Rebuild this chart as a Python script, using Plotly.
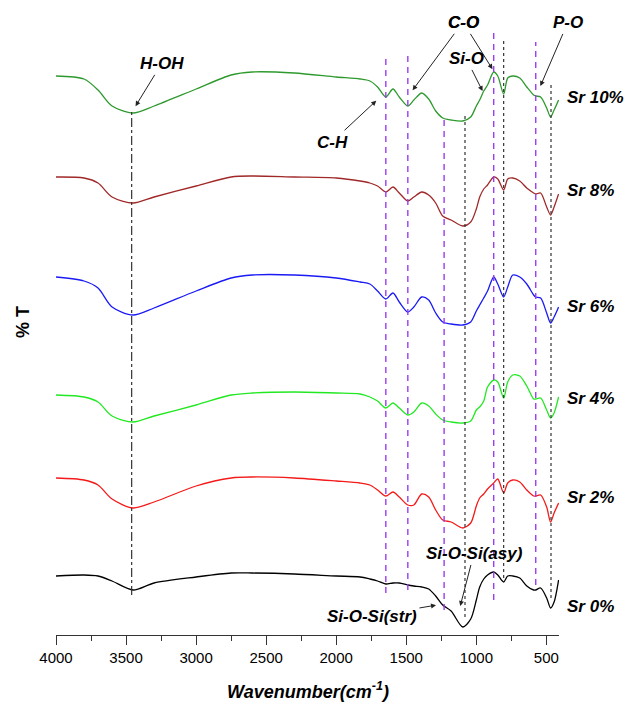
import plotly.graph_objects as go

# Wavenumber grid (cm^-1)
wavenumber = [4000, 3800, 3700, 3600, 3450, 3300, 3000, 2750, 2600, 2300, 2000, 1830,
              1760, 1705, 1646, 1595, 1550, 1489, 1446, 1390, 1340, 1290, 1240, 1180,
              1097, 1040, 1000, 976, 947, 920, 876, 847, 805, 776, 740, 690, 640, 591,
              576, 541, 498, 470, 445, 413]

# %T (arbitrary units, stacked with offsets)
sr10 = [559, 556, 545, 529, 522, 529, 546, 560, 563, 562, 558, 556, 554, 548, 538, 546,
        538, 529, 535, 542, 536, 524, 517, 515, 514, 518, 529, 535, 544, 550, 563, 559,
        541, 557, 559, 557, 548, 540, 539, 538, 527, 518, 525, 535]
sr8 = [458, 457, 452, 438, 432, 438, 449, 458, 459, 458, 457, 454, 452, 449, 443, 448,
       442, 434, 438, 443, 440, 432, 419, 415, 409, 413, 426, 438, 446, 450, 458, 456,
       445, 456, 457, 454, 447, 442, 441, 442, 428, 420, 428, 441]
sr6 = [358, 354, 347, 328, 320, 327, 344, 357, 360, 360, 357, 353, 351, 344, 336, 342,
       333, 323, 328, 338, 335, 322, 313, 311, 310, 313, 324, 330, 337, 344, 358, 351,
       338, 348, 360, 358, 351, 340, 338, 337, 322, 312, 318, 328]
sr4 = [240, 238, 233, 219, 213, 219, 230, 240, 242, 243, 242, 241, 238, 234, 227, 232,
       227, 220, 223, 232, 229, 221, 215, 213, 212, 214, 225, 228, 234, 248, 255, 253,
       237, 253, 260, 259, 249, 236, 236, 237, 225, 217, 222, 238]
sr2 = [157, 155, 150, 136, 127, 133, 149, 157, 158, 157, 154, 152, 150, 145, 139, 143,
       138, 130, 130, 141, 138, 125, 115, 113, 107, 112, 129, 137, 141, 146, 152, 156,
       142, 152, 155, 153, 145, 139, 139, 140, 128, 113, 122, 132]
sr0 = [59, 60, 59, 54, 45, 52, 58, 62, 62, 61, 59, 58, 56, 54, 51, 52, 52, 50, 49, 48,
       46, 39, 30, 24, 8, 16, 35, 48, 56, 60, 63, 60, 53, 59, 59, 57, 49, 45, 45, 47,
       37, 27, 33, 55]

series_names = ["Sr 10%", "Sr 8%", "Sr 6%", "Sr 4%", "Sr 2%", "Sr 0%"]
series_values = [sr10, sr8, sr6, sr4, sr2, sr0]
series_colors = ["#2E9A2E", "#A02828", "#1A1AF5", "#22E822", "#F41A1A", "#000000"]
label_levels = [538, 444, 329, 237, 138, 29]

# Band marker lines (cm^-1) and their vertical extents (%T units)
dashed_bands = [1646, 1489, 1230, 876, 576]
dashed_extent = [(42, 580), (45, 580), (25, 517), (35, 602), (50, 593)]
dotted_bands = [1081, 805, 467]
dotted_extent = [(18, 520), (57, 595), (37, 552)]
dashdot_band = 3460
dashdot_extent = (40, 523)

W, H = 629, 715
L, R, T, B = 56, 70, 0, 80
XR = [4000, 410]
YR = [0, 635]


def px_to_x(px):
    return XR[0] + (px - L) * (XR[1] - XR[0]) / (W - L - R)


def py_to_y(py):
    return YR[1] - (py - T) * (YR[1] - YR[0]) / (H - T - B)


def px_to_paper(px):
    return (px - L) / (W - L - R)


def py_to_paper(py):
    return (H - B - py) / (H - T - B)


def y_to_paper(y):
    return (y - YR[0]) / (YR[1] - YR[0])


fig = go.Figure()

for name, vals, col in zip(series_names, series_values, series_colors):
    fig.add_trace(go.Scatter(x=wavenumber, y=vals, mode="lines", name=name,
                             line=dict(color=col, width=1.3, shape="spline", smoothing=0.8),
                             showlegend=False))

for xb, (y0, y1) in zip(dashed_bands, dashed_extent):
    fig.add_shape(type="line", x0=xb, x1=xb, y0=y0, y1=y1, xref="x", yref="y",
                  line=dict(color="#9B3DF2", width=1.4, dash="6px,5px"))
for xb, (y0, y1) in zip(dotted_bands, dotted_extent):
    fig.add_shape(type="line", x0=xb, x1=xb, y0=y0, y1=y1, xref="x", yref="y",
                  line=dict(color="#333333", width=1.2, dash="dot"))
fig.add_shape(type="line", x0=dashdot_band, x1=dashdot_band, y0=dashdot_extent[0],
              y1=dashdot_extent[1], xref="x", yref="y",
              line=dict(color="#333333", width=1.2, dash="dashdot"))

lab_font = dict(family="Liberation Sans, Arial", size=17, color="black")

# series labels
for name, lv in zip(series_names, label_levels):
    fig.add_annotation(x=px_to_paper(565), y=y_to_paper(lv), xref="paper", yref="paper",
                       text="<b><i>%s</i></b>" % name,
                       showarrow=False, xanchor="left", yanchor="middle", font=lab_font)

# band labels with arrows: (text, label centre px, arrow head px)
band_labels = [("H-OH", (162, 63), (135, 107)),
               ("C-H", (332, 142), (377, 100)),
               ("C-O", (463, 22), (412, 91)),
               ("C-O", (463, 22), (493, 70)),
               ("Si-O", (466, 58), (483, 92)),
               ("P-O", (568, 22), (540, 87)),
               ("Si-O-Si(asy)", (474, 553), (460, 607)),
               ("Si-O-Si(str)", (372, 616), (437, 605))]
for t, (tx, ty), (hx, hy) in band_labels:
    fig.add_annotation(x=px_to_x(hx), y=py_to_y(hy), xref="x", yref="y",
                       ax=tx - hx, ay=ty - hy, text="<b><i>%s</i></b>" % t,
                       font=lab_font, showarrow=True, arrowhead=2, arrowsize=1,
                       arrowwidth=1, arrowcolor="#222222", standoff=1, startstandoff=1)

# axis titles
fig.add_annotation(x=0.5, xref="paper", y=py_to_paper(690), yref="paper",
                   text="<b><i>Wavenumber(cm<sup>-1</sup>)</i></b>", showarrow=False,
                   xanchor="center", yanchor="middle",
                   font=dict(family="Liberation Sans, Arial", size=18, color="black"))
fig.add_annotation(x=px_to_paper(23), xref="paper", y=py_to_paper(322), yref="paper",
                   text="<b>% T</b>", textangle=-90, showarrow=False,
                   xanchor="center", yanchor="middle",
                   font=dict(family="Liberation Sans, Arial", size=18, color="black"))

fig.update_xaxes(range=XR, showline=True, linecolor="#333333", linewidth=1.2,
                 ticks="outside", ticklen=9, tickwidth=1.2, tickcolor="#333333",
                 tickvals=[4000, 3500, 3000, 2500, 2000, 1500, 1000, 500],
                 minor=dict(ticks="outside", ticklen=5, tickwidth=1.2, tickcolor="#333333",
                            tickvals=[3750, 3250, 2750, 2250, 1750, 1250, 750]),
                 showgrid=False, zeroline=False,
                 tickfont=dict(family="Liberation Sans Narrow, Arial Narrow, Liberation Sans",
                               size=15, color="black"))
fig.update_yaxes(range=YR, visible=False, showgrid=False, zeroline=False)

fig.update_layout(width=W, height=H, margin=dict(l=L, r=R, t=T, b=B),
                  paper_bgcolor="white", plot_bgcolor="white")

fig.write_html("out.html")
